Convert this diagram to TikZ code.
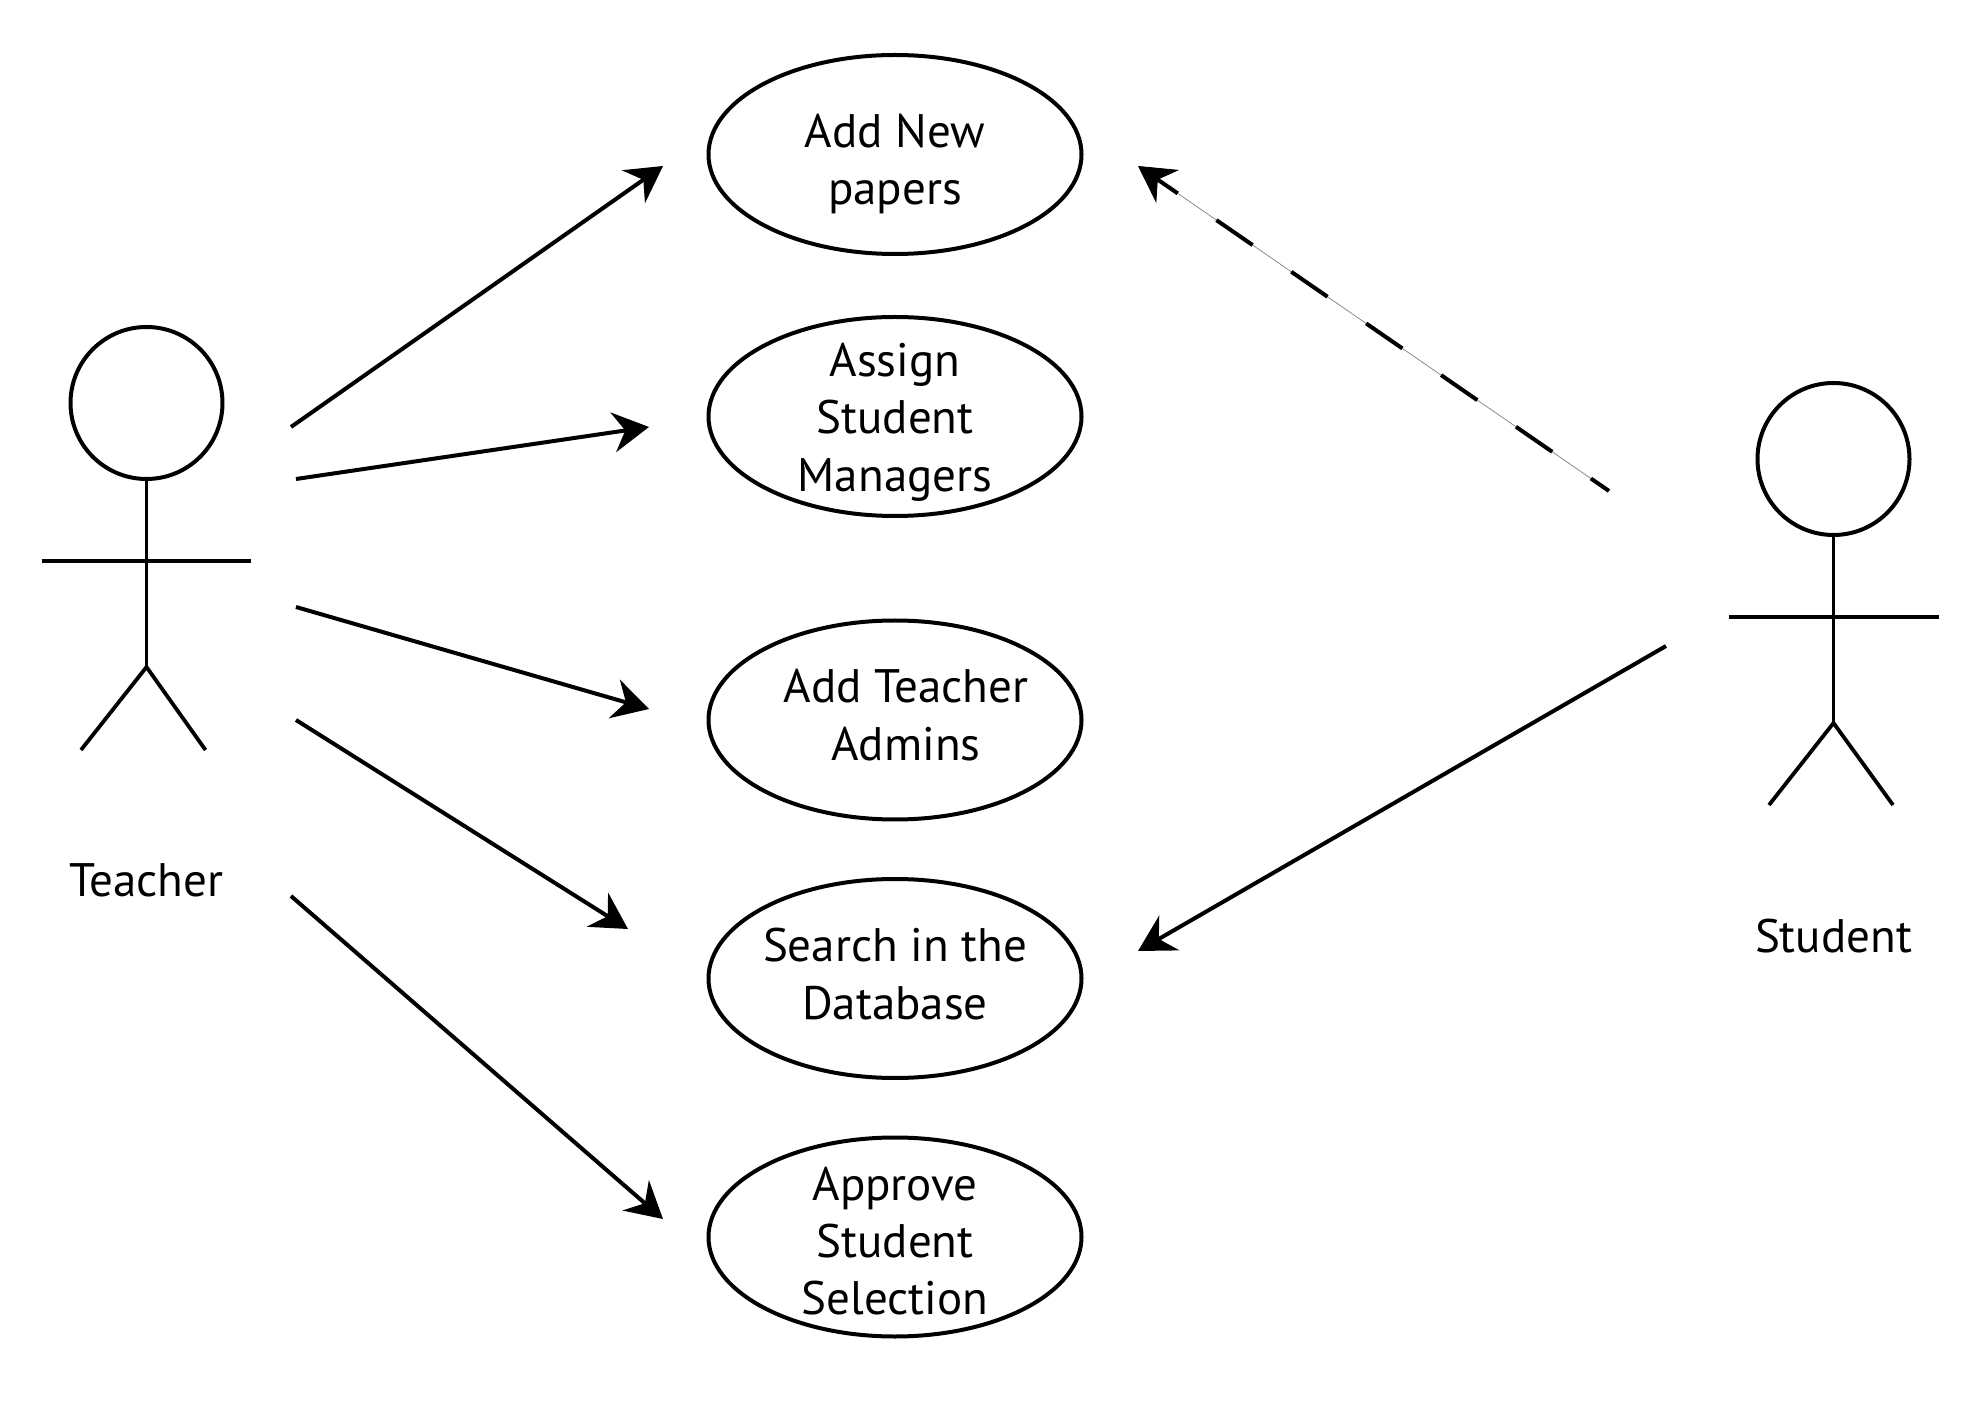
\documentclass[tikz,border=0pt]{standalone}
\usepackage{fontspec}
\setmainfont{PT Sans}
\usetikzlibrary{arrows.meta,shapes.geometric}
\tikzset{
  usecase/.style={draw=black,line width=2pt,ellipse,minimum width=186.5pt,minimum height=99.5pt,inner sep=0pt},
  lbl/.style={align=center,font=\fontsize{23.5pt}{28.7pt}\selectfont,inner sep=0pt,text=black},
  limb/.style={draw=black,line width=1.9pt},
  head/.style={draw=black,line width=2pt,circle,minimum size=76pt,inner sep=0pt},
  assoc/.style={draw=black,line width=2pt,-{Stealth[length=18pt,width=20pt,inset=6pt]}},
  thinguide/.style={draw=black!45,line width=0.4pt,-{Stealth[length=18pt,width=20pt,inset=6pt,color=black,fill=black]}},
  dashes/.style={draw=black,line width=2pt,dash pattern=on 22pt off 23.5pt,dash phase=11pt}
}
\begin{document}
\begin{tikzpicture}[x=0.5pt,y=-0.5pt]
\useasboundingbox[fill=white] (0,0) rectangle (1976,1416);
% use cases
\node[usecase] (u1) at (895,154.5) {};
\node[usecase] (u2) at (895,416.5) {};
\node[usecase] (u3) at (895,720) {};
\node[usecase] (u4) at (895,978.5) {};
\node[usecase] (u5) at (895,1237) {};
\node[lbl] (t1) at (895,164) {Add New\\papers};
\node[lbl] (t2) at (895,422) {Assign\\Student\\Managers};
\node[lbl] (t3) at (906,715) {Add Teacher\\Admins};
\node[lbl] (t4) at (895,974) {Search in the\\Database};
\node[lbl] (t5) at (895,1241) {Approve\\Student\\Selection};
% teacher
\node[head] (th) at (146.5,403) {};
\coordinate (tw) at (146.5,667);
\coordinate (tal) at (41.5,561);
\coordinate (tar) at (251,561);
\coordinate (tll) at (81,750);
\coordinate (tlr) at (205.5,750);
\draw[limb] (th.south) -- (tw);
\draw[limb] (tal) -- (tar);
\draw[limb] (tll) -- (tw) -- (tlr);
\node[lbl] (tn) at (146.5,880) {Teacher};
% student
\node[head] (sh) at (1833.5,459) {};
\coordinate (sw) at (1833.5,723);
\coordinate (sal) at (1729,617);
\coordinate (sar) at (1939,617);
\coordinate (sll) at (1769,805);
\coordinate (slr) at (1893,805);
\draw[limb] (sh.south) -- (sw);
\draw[limb] (sal) -- (sar);
\draw[limb] (sll) -- (sw) -- (slr);
\node[lbl] (sn) at (1833.5,936) {Student};
% arrow ends
\coordinate (a1s) at (291,427);  \coordinate (a1e) at (663,166);
\coordinate (a2s) at (296,479);  \coordinate (a2e) at (649,427);
\coordinate (a3s) at (296,607);  \coordinate (a3e) at (649,709);
\coordinate (a4s) at (296,720);  \coordinate (a4e) at (628,929);
\coordinate (a5s) at (291,896);  \coordinate (a5e) at (663,1219);
\coordinate (a6s) at (1666,646); \coordinate (a6e) at (1138,951);
\coordinate (a7s) at (1609,491); \coordinate (a7e) at (1138,166);
\draw[assoc] (a1s) -- (a1e);
\draw[assoc] (a2s) -- (a2e);
\draw[assoc] (a3s) -- (a3e);
\draw[assoc] (a4s) -- (a4e);
\draw[assoc] (a5s) -- (a5e);
\draw[assoc] (a6s) -- (a6e);
\draw[thinguide] (a7s) -- (a7e);
\draw[dashes] (a7s) -- (a7e);
\end{tikzpicture}
\end{document}
